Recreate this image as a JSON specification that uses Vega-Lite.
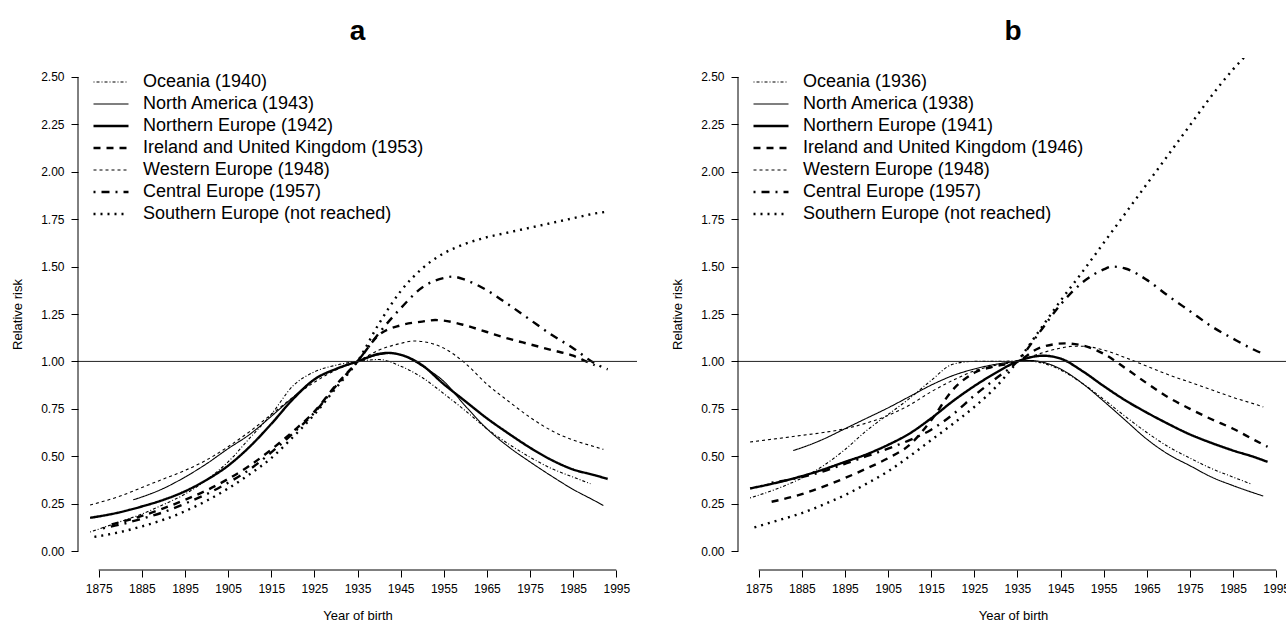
{
  "$schema": "https://vega.github.io/schema/vega-lite/v6.json",
  "background": "white",
  "padding": {"left": 11, "top": 18, "right": 0, "bottom": 0},
  "spacing": 33,
  "config": {
    "font": "Liberation Sans",
    "view": {"stroke": null},
    "axis": {"grid": false, "domain": false, "tickColor": "black", "tickSize": 7, "tickWidth": 1, "labelColor": "black", "titleColor": "black", "labelFontSize": 12, "titleFontSize": 13, "titleFontWeight": "normal", "labelFont": "Liberation Sans", "titleFont": "Liberation Sans"},
    "title": {"fontSize": 28, "fontWeight": "bold", "color": "black", "font": "Liberation Sans", "anchor": "middle"},
    "legend": {"orient": "none", "legendX": 14, "legendY": 13.3, "title": null, "symbolType": "stroke", "symbolSize": 1225, "symbolStrokeColor": "black", "clipHeight": 21.4, "rowPadding": 0, "labelOffset": 13, "labelFontSize": 18, "labelColor": "black", "labelFont": "Liberation Sans", "labelLimit": 0, "padding": 0}
  },
  "datasets": {
    "a": [
      {"region": "Oceania (1940)", "year": 1873, "rr": 0.10}, {"region": "Oceania (1940)", "year": 1880, "rr": 0.155}, {"region": "Oceania (1940)", "year": 1885, "rr": 0.195}, {"region": "Oceania (1940)", "year": 1890, "rr": 0.245}, {"region": "Oceania (1940)", "year": 1895, "rr": 0.30}, {"region": "Oceania (1940)", "year": 1900, "rr": 0.375}, {"region": "Oceania (1940)", "year": 1905, "rr": 0.47}, {"region": "Oceania (1940)", "year": 1910, "rr": 0.595}, {"region": "Oceania (1940)", "year": 1915, "rr": 0.72}, {"region": "Oceania (1940)", "year": 1920, "rr": 0.87}, {"region": "Oceania (1940)", "year": 1925, "rr": 0.945}, {"region": "Oceania (1940)", "year": 1930, "rr": 0.98}, {"region": "Oceania (1940)", "year": 1935, "rr": 1.0}, {"region": "Oceania (1940)", "year": 1940, "rr": 1.01}, {"region": "Oceania (1940)", "year": 1945, "rr": 0.975}, {"region": "Oceania (1940)", "year": 1950, "rr": 0.915}, {"region": "Oceania (1940)", "year": 1955, "rr": 0.83}, {"region": "Oceania (1940)", "year": 1960, "rr": 0.74}, {"region": "Oceania (1940)", "year": 1965, "rr": 0.645}, {"region": "Oceania (1940)", "year": 1970, "rr": 0.565}, {"region": "Oceania (1940)", "year": 1975, "rr": 0.495}, {"region": "Oceania (1940)", "year": 1980, "rr": 0.435}, {"region": "Oceania (1940)", "year": 1985, "rr": 0.39}, {"region": "Oceania (1940)", "year": 1989, "rr": 0.355},
      {"region": "North America (1943)", "year": 1883, "rr": 0.27}, {"region": "North America (1943)", "year": 1885, "rr": 0.285}, {"region": "North America (1943)", "year": 1890, "rr": 0.33}, {"region": "North America (1943)", "year": 1895, "rr": 0.39}, {"region": "North America (1943)", "year": 1900, "rr": 0.46}, {"region": "North America (1943)", "year": 1905, "rr": 0.54}, {"region": "North America (1943)", "year": 1910, "rr": 0.615}, {"region": "North America (1943)", "year": 1915, "rr": 0.71}, {"region": "North America (1943)", "year": 1920, "rr": 0.81}, {"region": "North America (1943)", "year": 1925, "rr": 0.905}, {"region": "North America (1943)", "year": 1930, "rr": 0.96}, {"region": "North America (1943)", "year": 1935, "rr": 1.0}, {"region": "North America (1943)", "year": 1940, "rr": 1.035}, {"region": "North America (1943)", "year": 1943, "rr": 1.042}, {"region": "North America (1943)", "year": 1945, "rr": 1.035}, {"region": "North America (1943)", "year": 1950, "rr": 0.975}, {"region": "North America (1943)", "year": 1955, "rr": 0.895}, {"region": "North America (1943)", "year": 1960, "rr": 0.765}, {"region": "North America (1943)", "year": 1965, "rr": 0.645}, {"region": "North America (1943)", "year": 1970, "rr": 0.55}, {"region": "North America (1943)", "year": 1975, "rr": 0.47}, {"region": "North America (1943)", "year": 1980, "rr": 0.395}, {"region": "North America (1943)", "year": 1985, "rr": 0.325}, {"region": "North America (1943)", "year": 1990, "rr": 0.265}, {"region": "North America (1943)", "year": 1992, "rr": 0.24},
      {"region": "Northern Europe (1942)", "year": 1873, "rr": 0.175}, {"region": "Northern Europe (1942)", "year": 1880, "rr": 0.205}, {"region": "Northern Europe (1942)", "year": 1885, "rr": 0.235}, {"region": "Northern Europe (1942)", "year": 1890, "rr": 0.27}, {"region": "Northern Europe (1942)", "year": 1895, "rr": 0.315}, {"region": "Northern Europe (1942)", "year": 1900, "rr": 0.375}, {"region": "Northern Europe (1942)", "year": 1905, "rr": 0.45}, {"region": "Northern Europe (1942)", "year": 1910, "rr": 0.55}, {"region": "Northern Europe (1942)", "year": 1915, "rr": 0.67}, {"region": "Northern Europe (1942)", "year": 1920, "rr": 0.80}, {"region": "Northern Europe (1942)", "year": 1925, "rr": 0.905}, {"region": "Northern Europe (1942)", "year": 1930, "rr": 0.96}, {"region": "Northern Europe (1942)", "year": 1935, "rr": 1.0}, {"region": "Northern Europe (1942)", "year": 1940, "rr": 1.04}, {"region": "Northern Europe (1942)", "year": 1942, "rr": 1.045}, {"region": "Northern Europe (1942)", "year": 1945, "rr": 1.035}, {"region": "Northern Europe (1942)", "year": 1950, "rr": 0.98}, {"region": "Northern Europe (1942)", "year": 1955, "rr": 0.88}, {"region": "Northern Europe (1942)", "year": 1960, "rr": 0.79}, {"region": "Northern Europe (1942)", "year": 1965, "rr": 0.70}, {"region": "Northern Europe (1942)", "year": 1970, "rr": 0.62}, {"region": "Northern Europe (1942)", "year": 1975, "rr": 0.545}, {"region": "Northern Europe (1942)", "year": 1980, "rr": 0.48}, {"region": "Northern Europe (1942)", "year": 1985, "rr": 0.43}, {"region": "Northern Europe (1942)", "year": 1990, "rr": 0.40}, {"region": "Northern Europe (1942)", "year": 1993, "rr": 0.38},
      {"region": "Ireland and United Kingdom (1953)", "year": 1878, "rr": 0.14}, {"region": "Ireland and United Kingdom (1953)", "year": 1885, "rr": 0.185}, {"region": "Ireland and United Kingdom (1953)", "year": 1890, "rr": 0.225}, {"region": "Ireland and United Kingdom (1953)", "year": 1895, "rr": 0.27}, {"region": "Ireland and United Kingdom (1953)", "year": 1900, "rr": 0.32}, {"region": "Ireland and United Kingdom (1953)", "year": 1905, "rr": 0.38}, {"region": "Ireland and United Kingdom (1953)", "year": 1910, "rr": 0.45}, {"region": "Ireland and United Kingdom (1953)", "year": 1915, "rr": 0.535}, {"region": "Ireland and United Kingdom (1953)", "year": 1920, "rr": 0.63}, {"region": "Ireland and United Kingdom (1953)", "year": 1925, "rr": 0.735}, {"region": "Ireland and United Kingdom (1953)", "year": 1930, "rr": 0.875}, {"region": "Ireland and United Kingdom (1953)", "year": 1935, "rr": 1.0}, {"region": "Ireland and United Kingdom (1953)", "year": 1940, "rr": 1.14}, {"region": "Ireland and United Kingdom (1953)", "year": 1945, "rr": 1.19}, {"region": "Ireland and United Kingdom (1953)", "year": 1950, "rr": 1.21}, {"region": "Ireland and United Kingdom (1953)", "year": 1953, "rr": 1.218}, {"region": "Ireland and United Kingdom (1953)", "year": 1955, "rr": 1.215}, {"region": "Ireland and United Kingdom (1953)", "year": 1960, "rr": 1.19}, {"region": "Ireland and United Kingdom (1953)", "year": 1965, "rr": 1.155}, {"region": "Ireland and United Kingdom (1953)", "year": 1970, "rr": 1.12}, {"region": "Ireland and United Kingdom (1953)", "year": 1975, "rr": 1.09}, {"region": "Ireland and United Kingdom (1953)", "year": 1980, "rr": 1.06}, {"region": "Ireland and United Kingdom (1953)", "year": 1985, "rr": 1.03}, {"region": "Ireland and United Kingdom (1953)", "year": 1988, "rr": 1.0}, {"region": "Ireland and United Kingdom (1953)", "year": 1990, "rr": 0.98},
      {"region": "Western Europe (1948)", "year": 1873, "rr": 0.243}, {"region": "Western Europe (1948)", "year": 1880, "rr": 0.29}, {"region": "Western Europe (1948)", "year": 1885, "rr": 0.335}, {"region": "Western Europe (1948)", "year": 1890, "rr": 0.38}, {"region": "Western Europe (1948)", "year": 1895, "rr": 0.425}, {"region": "Western Europe (1948)", "year": 1900, "rr": 0.48}, {"region": "Western Europe (1948)", "year": 1905, "rr": 0.55}, {"region": "Western Europe (1948)", "year": 1910, "rr": 0.63}, {"region": "Western Europe (1948)", "year": 1915, "rr": 0.72}, {"region": "Western Europe (1948)", "year": 1920, "rr": 0.81}, {"region": "Western Europe (1948)", "year": 1925, "rr": 0.89}, {"region": "Western Europe (1948)", "year": 1930, "rr": 0.955}, {"region": "Western Europe (1948)", "year": 1935, "rr": 1.0}, {"region": "Western Europe (1948)", "year": 1940, "rr": 1.06}, {"region": "Western Europe (1948)", "year": 1945, "rr": 1.095}, {"region": "Western Europe (1948)", "year": 1948, "rr": 1.108}, {"region": "Western Europe (1948)", "year": 1950, "rr": 1.105}, {"region": "Western Europe (1948)", "year": 1955, "rr": 1.07}, {"region": "Western Europe (1948)", "year": 1960, "rr": 0.99}, {"region": "Western Europe (1948)", "year": 1965, "rr": 0.88}, {"region": "Western Europe (1948)", "year": 1970, "rr": 0.79}, {"region": "Western Europe (1948)", "year": 1975, "rr": 0.705}, {"region": "Western Europe (1948)", "year": 1980, "rr": 0.635}, {"region": "Western Europe (1948)", "year": 1985, "rr": 0.585}, {"region": "Western Europe (1948)", "year": 1990, "rr": 0.55}, {"region": "Western Europe (1948)", "year": 1992, "rr": 0.536},
      {"region": "Central Europe (1957)", "year": 1876, "rr": 0.12}, {"region": "Central Europe (1957)", "year": 1880, "rr": 0.14}, {"region": "Central Europe (1957)", "year": 1885, "rr": 0.17}, {"region": "Central Europe (1957)", "year": 1890, "rr": 0.205}, {"region": "Central Europe (1957)", "year": 1895, "rr": 0.25}, {"region": "Central Europe (1957)", "year": 1900, "rr": 0.30}, {"region": "Central Europe (1957)", "year": 1905, "rr": 0.36}, {"region": "Central Europe (1957)", "year": 1910, "rr": 0.43}, {"region": "Central Europe (1957)", "year": 1915, "rr": 0.52}, {"region": "Central Europe (1957)", "year": 1920, "rr": 0.62}, {"region": "Central Europe (1957)", "year": 1925, "rr": 0.73}, {"region": "Central Europe (1957)", "year": 1930, "rr": 0.87}, {"region": "Central Europe (1957)", "year": 1935, "rr": 1.0}, {"region": "Central Europe (1957)", "year": 1940, "rr": 1.15}, {"region": "Central Europe (1957)", "year": 1945, "rr": 1.28}, {"region": "Central Europe (1957)", "year": 1950, "rr": 1.39}, {"region": "Central Europe (1957)", "year": 1955, "rr": 1.44}, {"region": "Central Europe (1957)", "year": 1957, "rr": 1.447}, {"region": "Central Europe (1957)", "year": 1960, "rr": 1.43}, {"region": "Central Europe (1957)", "year": 1965, "rr": 1.375}, {"region": "Central Europe (1957)", "year": 1970, "rr": 1.30}, {"region": "Central Europe (1957)", "year": 1975, "rr": 1.22}, {"region": "Central Europe (1957)", "year": 1980, "rr": 1.14}, {"region": "Central Europe (1957)", "year": 1985, "rr": 1.07}, {"region": "Central Europe (1957)", "year": 1990, "rr": 0.99}, {"region": "Central Europe (1957)", "year": 1993, "rr": 0.958},
      {"region": "Southern Europe (not reached)", "year": 1874, "rr": 0.075}, {"region": "Southern Europe (not reached)", "year": 1880, "rr": 0.10}, {"region": "Southern Europe (not reached)", "year": 1885, "rr": 0.13}, {"region": "Southern Europe (not reached)", "year": 1890, "rr": 0.165}, {"region": "Southern Europe (not reached)", "year": 1895, "rr": 0.21}, {"region": "Southern Europe (not reached)", "year": 1900, "rr": 0.265}, {"region": "Southern Europe (not reached)", "year": 1905, "rr": 0.33}, {"region": "Southern Europe (not reached)", "year": 1910, "rr": 0.405}, {"region": "Southern Europe (not reached)", "year": 1915, "rr": 0.49}, {"region": "Southern Europe (not reached)", "year": 1920, "rr": 0.60}, {"region": "Southern Europe (not reached)", "year": 1925, "rr": 0.72}, {"region": "Southern Europe (not reached)", "year": 1930, "rr": 0.86}, {"region": "Southern Europe (not reached)", "year": 1935, "rr": 1.0}, {"region": "Southern Europe (not reached)", "year": 1940, "rr": 1.2}, {"region": "Southern Europe (not reached)", "year": 1945, "rr": 1.37}, {"region": "Southern Europe (not reached)", "year": 1950, "rr": 1.49}, {"region": "Southern Europe (not reached)", "year": 1955, "rr": 1.57}, {"region": "Southern Europe (not reached)", "year": 1960, "rr": 1.62}, {"region": "Southern Europe (not reached)", "year": 1965, "rr": 1.655}, {"region": "Southern Europe (not reached)", "year": 1970, "rr": 1.68}, {"region": "Southern Europe (not reached)", "year": 1975, "rr": 1.705}, {"region": "Southern Europe (not reached)", "year": 1980, "rr": 1.73}, {"region": "Southern Europe (not reached)", "year": 1985, "rr": 1.755}, {"region": "Southern Europe (not reached)", "year": 1990, "rr": 1.78}, {"region": "Southern Europe (not reached)", "year": 1993, "rr": 1.79}
    ],
    "b": [
      {"region": "Oceania (1936)", "year": 1873, "rr": 0.28}, {"region": "Oceania (1936)", "year": 1880, "rr": 0.335}, {"region": "Oceania (1936)", "year": 1885, "rr": 0.385}, {"region": "Oceania (1936)", "year": 1890, "rr": 0.45}, {"region": "Oceania (1936)", "year": 1895, "rr": 0.535}, {"region": "Oceania (1936)", "year": 1900, "rr": 0.635}, {"region": "Oceania (1936)", "year": 1905, "rr": 0.72}, {"region": "Oceania (1936)", "year": 1910, "rr": 0.805}, {"region": "Oceania (1936)", "year": 1915, "rr": 0.90}, {"region": "Oceania (1936)", "year": 1920, "rr": 0.985}, {"region": "Oceania (1936)", "year": 1925, "rr": 1.0}, {"region": "Oceania (1936)", "year": 1930, "rr": 1.0}, {"region": "Oceania (1936)", "year": 1936, "rr": 1.003}, {"region": "Oceania (1936)", "year": 1940, "rr": 0.995}, {"region": "Oceania (1936)", "year": 1945, "rr": 0.955}, {"region": "Oceania (1936)", "year": 1950, "rr": 0.885}, {"region": "Oceania (1936)", "year": 1955, "rr": 0.80}, {"region": "Oceania (1936)", "year": 1960, "rr": 0.71}, {"region": "Oceania (1936)", "year": 1965, "rr": 0.625}, {"region": "Oceania (1936)", "year": 1970, "rr": 0.55}, {"region": "Oceania (1936)", "year": 1975, "rr": 0.49}, {"region": "Oceania (1936)", "year": 1980, "rr": 0.435}, {"region": "Oceania (1936)", "year": 1985, "rr": 0.39}, {"region": "Oceania (1936)", "year": 1989, "rr": 0.355},
      {"region": "North America (1938)", "year": 1883, "rr": 0.53}, {"region": "North America (1938)", "year": 1885, "rr": 0.545}, {"region": "North America (1938)", "year": 1890, "rr": 0.59}, {"region": "North America (1938)", "year": 1895, "rr": 0.645}, {"region": "North America (1938)", "year": 1900, "rr": 0.70}, {"region": "North America (1938)", "year": 1905, "rr": 0.755}, {"region": "North America (1938)", "year": 1910, "rr": 0.815}, {"region": "North America (1938)", "year": 1915, "rr": 0.875}, {"region": "North America (1938)", "year": 1920, "rr": 0.925}, {"region": "North America (1938)", "year": 1925, "rr": 0.96}, {"region": "North America (1938)", "year": 1930, "rr": 0.985}, {"region": "North America (1938)", "year": 1935, "rr": 1.0}, {"region": "North America (1938)", "year": 1938, "rr": 1.005}, {"region": "North America (1938)", "year": 1940, "rr": 1.0}, {"region": "North America (1938)", "year": 1945, "rr": 0.96}, {"region": "North America (1938)", "year": 1950, "rr": 0.885}, {"region": "North America (1938)", "year": 1955, "rr": 0.79}, {"region": "North America (1938)", "year": 1960, "rr": 0.69}, {"region": "North America (1938)", "year": 1965, "rr": 0.59}, {"region": "North America (1938)", "year": 1970, "rr": 0.51}, {"region": "North America (1938)", "year": 1975, "rr": 0.45}, {"region": "North America (1938)", "year": 1980, "rr": 0.39}, {"region": "North America (1938)", "year": 1985, "rr": 0.345}, {"region": "North America (1938)", "year": 1990, "rr": 0.305}, {"region": "North America (1938)", "year": 1992, "rr": 0.29},
      {"region": "Northern Europe (1941)", "year": 1873, "rr": 0.33}, {"region": "Northern Europe (1941)", "year": 1880, "rr": 0.365}, {"region": "Northern Europe (1941)", "year": 1885, "rr": 0.395}, {"region": "Northern Europe (1941)", "year": 1890, "rr": 0.43}, {"region": "Northern Europe (1941)", "year": 1895, "rr": 0.47}, {"region": "Northern Europe (1941)", "year": 1900, "rr": 0.51}, {"region": "Northern Europe (1941)", "year": 1905, "rr": 0.56}, {"region": "Northern Europe (1941)", "year": 1910, "rr": 0.62}, {"region": "Northern Europe (1941)", "year": 1915, "rr": 0.70}, {"region": "Northern Europe (1941)", "year": 1920, "rr": 0.79}, {"region": "Northern Europe (1941)", "year": 1925, "rr": 0.87}, {"region": "Northern Europe (1941)", "year": 1930, "rr": 0.94}, {"region": "Northern Europe (1941)", "year": 1935, "rr": 1.0}, {"region": "Northern Europe (1941)", "year": 1941, "rr": 1.03}, {"region": "Northern Europe (1941)", "year": 1945, "rr": 1.015}, {"region": "Northern Europe (1941)", "year": 1950, "rr": 0.95}, {"region": "Northern Europe (1941)", "year": 1955, "rr": 0.87}, {"region": "Northern Europe (1941)", "year": 1960, "rr": 0.795}, {"region": "Northern Europe (1941)", "year": 1965, "rr": 0.73}, {"region": "Northern Europe (1941)", "year": 1970, "rr": 0.67}, {"region": "Northern Europe (1941)", "year": 1975, "rr": 0.615}, {"region": "Northern Europe (1941)", "year": 1980, "rr": 0.57}, {"region": "Northern Europe (1941)", "year": 1985, "rr": 0.53}, {"region": "Northern Europe (1941)", "year": 1990, "rr": 0.495}, {"region": "Northern Europe (1941)", "year": 1993, "rr": 0.47},
      {"region": "Ireland and United Kingdom (1946)", "year": 1878, "rr": 0.26}, {"region": "Ireland and United Kingdom (1946)", "year": 1885, "rr": 0.30}, {"region": "Ireland and United Kingdom (1946)", "year": 1890, "rr": 0.34}, {"region": "Ireland and United Kingdom (1946)", "year": 1895, "rr": 0.385}, {"region": "Ireland and United Kingdom (1946)", "year": 1900, "rr": 0.435}, {"region": "Ireland and United Kingdom (1946)", "year": 1905, "rr": 0.49}, {"region": "Ireland and United Kingdom (1946)", "year": 1910, "rr": 0.56}, {"region": "Ireland and United Kingdom (1946)", "year": 1915, "rr": 0.69}, {"region": "Ireland and United Kingdom (1946)", "year": 1920, "rr": 0.85}, {"region": "Ireland and United Kingdom (1946)", "year": 1925, "rr": 0.94}, {"region": "Ireland and United Kingdom (1946)", "year": 1930, "rr": 0.975}, {"region": "Ireland and United Kingdom (1946)", "year": 1935, "rr": 1.0}, {"region": "Ireland and United Kingdom (1946)", "year": 1940, "rr": 1.07}, {"region": "Ireland and United Kingdom (1946)", "year": 1946, "rr": 1.095}, {"region": "Ireland and United Kingdom (1946)", "year": 1950, "rr": 1.085}, {"region": "Ireland and United Kingdom (1946)", "year": 1955, "rr": 1.04}, {"region": "Ireland and United Kingdom (1946)", "year": 1960, "rr": 0.965}, {"region": "Ireland and United Kingdom (1946)", "year": 1965, "rr": 0.885}, {"region": "Ireland and United Kingdom (1946)", "year": 1970, "rr": 0.81}, {"region": "Ireland and United Kingdom (1946)", "year": 1975, "rr": 0.75}, {"region": "Ireland and United Kingdom (1946)", "year": 1980, "rr": 0.695}, {"region": "Ireland and United Kingdom (1946)", "year": 1985, "rr": 0.645}, {"region": "Ireland and United Kingdom (1946)", "year": 1990, "rr": 0.585}, {"region": "Ireland and United Kingdom (1946)", "year": 1993, "rr": 0.55},
      {"region": "Western Europe (1948)", "year": 1873, "rr": 0.575}, {"region": "Western Europe (1948)", "year": 1880, "rr": 0.595}, {"region": "Western Europe (1948)", "year": 1885, "rr": 0.61}, {"region": "Western Europe (1948)", "year": 1890, "rr": 0.625}, {"region": "Western Europe (1948)", "year": 1895, "rr": 0.645}, {"region": "Western Europe (1948)", "year": 1900, "rr": 0.675}, {"region": "Western Europe (1948)", "year": 1905, "rr": 0.715}, {"region": "Western Europe (1948)", "year": 1910, "rr": 0.77}, {"region": "Western Europe (1948)", "year": 1915, "rr": 0.84}, {"region": "Western Europe (1948)", "year": 1920, "rr": 0.90}, {"region": "Western Europe (1948)", "year": 1925, "rr": 0.95}, {"region": "Western Europe (1948)", "year": 1930, "rr": 0.98}, {"region": "Western Europe (1948)", "year": 1935, "rr": 1.0}, {"region": "Western Europe (1948)", "year": 1940, "rr": 1.04}, {"region": "Western Europe (1948)", "year": 1945, "rr": 1.07}, {"region": "Western Europe (1948)", "year": 1948, "rr": 1.08}, {"region": "Western Europe (1948)", "year": 1950, "rr": 1.08}, {"region": "Western Europe (1948)", "year": 1955, "rr": 1.06}, {"region": "Western Europe (1948)", "year": 1960, "rr": 1.02}, {"region": "Western Europe (1948)", "year": 1965, "rr": 0.975}, {"region": "Western Europe (1948)", "year": 1970, "rr": 0.93}, {"region": "Western Europe (1948)", "year": 1975, "rr": 0.89}, {"region": "Western Europe (1948)", "year": 1980, "rr": 0.85}, {"region": "Western Europe (1948)", "year": 1985, "rr": 0.81}, {"region": "Western Europe (1948)", "year": 1990, "rr": 0.775}, {"region": "Western Europe (1948)", "year": 1992, "rr": 0.76},
      {"region": "Central Europe (1957)", "year": 1878, "rr": 0.36}, {"region": "Central Europe (1957)", "year": 1885, "rr": 0.39}, {"region": "Central Europe (1957)", "year": 1890, "rr": 0.42}, {"region": "Central Europe (1957)", "year": 1895, "rr": 0.46}, {"region": "Central Europe (1957)", "year": 1900, "rr": 0.50}, {"region": "Central Europe (1957)", "year": 1905, "rr": 0.54}, {"region": "Central Europe (1957)", "year": 1910, "rr": 0.585}, {"region": "Central Europe (1957)", "year": 1915, "rr": 0.64}, {"region": "Central Europe (1957)", "year": 1920, "rr": 0.72}, {"region": "Central Europe (1957)", "year": 1925, "rr": 0.82}, {"region": "Central Europe (1957)", "year": 1930, "rr": 0.91}, {"region": "Central Europe (1957)", "year": 1935, "rr": 1.0}, {"region": "Central Europe (1957)", "year": 1940, "rr": 1.15}, {"region": "Central Europe (1957)", "year": 1945, "rr": 1.30}, {"region": "Central Europe (1957)", "year": 1950, "rr": 1.415}, {"region": "Central Europe (1957)", "year": 1955, "rr": 1.485}, {"region": "Central Europe (1957)", "year": 1957, "rr": 1.50}, {"region": "Central Europe (1957)", "year": 1960, "rr": 1.49}, {"region": "Central Europe (1957)", "year": 1965, "rr": 1.43}, {"region": "Central Europe (1957)", "year": 1970, "rr": 1.345}, {"region": "Central Europe (1957)", "year": 1975, "rr": 1.265}, {"region": "Central Europe (1957)", "year": 1980, "rr": 1.185}, {"region": "Central Europe (1957)", "year": 1985, "rr": 1.12}, {"region": "Central Europe (1957)", "year": 1990, "rr": 1.06}, {"region": "Central Europe (1957)", "year": 1992, "rr": 1.04},
      {"region": "Southern Europe (not reached)", "year": 1874, "rr": 0.125}, {"region": "Southern Europe (not reached)", "year": 1880, "rr": 0.165}, {"region": "Southern Europe (not reached)", "year": 1885, "rr": 0.20}, {"region": "Southern Europe (not reached)", "year": 1890, "rr": 0.245}, {"region": "Southern Europe (not reached)", "year": 1895, "rr": 0.295}, {"region": "Southern Europe (not reached)", "year": 1900, "rr": 0.355}, {"region": "Southern Europe (not reached)", "year": 1905, "rr": 0.42}, {"region": "Southern Europe (not reached)", "year": 1910, "rr": 0.50}, {"region": "Southern Europe (not reached)", "year": 1915, "rr": 0.585}, {"region": "Southern Europe (not reached)", "year": 1920, "rr": 0.67}, {"region": "Southern Europe (not reached)", "year": 1925, "rr": 0.76}, {"region": "Southern Europe (not reached)", "year": 1930, "rr": 0.865}, {"region": "Southern Europe (not reached)", "year": 1935, "rr": 1.0}, {"region": "Southern Europe (not reached)", "year": 1940, "rr": 1.16}, {"region": "Southern Europe (not reached)", "year": 1945, "rr": 1.32}, {"region": "Southern Europe (not reached)", "year": 1950, "rr": 1.47}, {"region": "Southern Europe (not reached)", "year": 1955, "rr": 1.625}, {"region": "Southern Europe (not reached)", "year": 1960, "rr": 1.78}, {"region": "Southern Europe (not reached)", "year": 1965, "rr": 1.935}, {"region": "Southern Europe (not reached)", "year": 1970, "rr": 2.09}, {"region": "Southern Europe (not reached)", "year": 1975, "rr": 2.245}, {"region": "Southern Europe (not reached)", "year": 1980, "rr": 2.40}, {"region": "Southern Europe (not reached)", "year": 1985, "rr": 2.54}, {"region": "Southern Europe (not reached)", "year": 1990, "rr": 2.66}, {"region": "Southern Europe (not reached)", "year": 1993, "rr": 2.73}
    ]
  },
  "resolve": {
    "scale": {"strokeDash": "independent", "strokeWidth": "independent"},
    "legend": {"strokeDash": "independent", "strokeWidth": "independent"}
  },
  "hconcat": [
    {
      "width": 559,
      "height": 512,
      "title": {"text": "a", "offset": 12},
      "layer": [
        {
          "data": {"name": "a"},
          "mark": {"type": "line", "color": "black", "clip": true, "interpolate": "monotone", "strokeCap": "butt"},
          "encoding": {
            "x": {"field": "year", "type": "quantitative", "scale": {"domain": [1870.2, 1999.8], "nice": false, "zero": false},
              "axis": {"values": [1875,1880,1885,1890,1895,1900,1905,1910,1915,1920,1925,1930,1935,1940,1945,1950,1955,1960,1965,1970,1975,1980,1985,1990,1995], "format": "d", "labelExpr": "(datum.value - 1875) % 10 == 0 ? datum.label : ''", "labelPadding": 6, "labelFlush": false, "labelOverlap": false, "title": "Year of birth", "titlePadding": 15}},
            "y": {"field": "rr", "type": "quantitative", "scale": {"domain": [-0.1, 2.6], "nice": false, "zero": false},
              "axis": {"values": [0,0.25,0.5,0.75,1,1.25,1.5,1.75,2,2.25,2.5], "format": ".2f", "labelPadding": 7, "labelFlush": false, "labelOverlap": false, "title": "Relative risk", "titlePadding": 16}},
            "strokeDash": {"field": "region", "type": "ordinal",
              "scale": {"type": "ordinal", "domain": ["Oceania (1940)", "North America (1943)", "Northern Europe (1942)", "Ireland and United Kingdom (1953)", "Western Europe (1948)", "Central Europe (1957)", "Southern Europe (not reached)"],
                "range": [[1,2,3,2],[1,0],[1,0],[7,6],[3,3],[2,6,8,6],[2,5]]}},
            "strokeWidth": {"field": "region", "type": "ordinal",
              "scale": {"type": "ordinal", "domain": ["Oceania (1940)", "North America (1943)", "Northern Europe (1942)", "Ireland and United Kingdom (1953)", "Western Europe (1948)", "Central Europe (1957)", "Southern Europe (not reached)"],
                "range": [1.1,1.1,2.4,2.4,1.1,2.4,2.4]}}
          }
        },
        {"data": {"values": [{}]}, "mark": {"type": "rule", "color": "#222", "strokeWidth": 1}, "encoding": {"y": {"datum": 1}}},
        {"data": {"values": [{}]}, "mark": {"type": "rule", "color": "black", "strokeWidth": 1}, "encoding": {"x": {"datum": 1870.2}, "y": {"datum": 0}, "y2": {"datum": 2.5}}},
        {"data": {"values": [{}]}, "mark": {"type": "rule", "color": "black", "strokeWidth": 1}, "encoding": {"y": {"datum": -0.1}, "x": {"datum": 1875}, "x2": {"datum": 1995}}}
      ]
    },
    {
      "width": 550,
      "height": 512,
      "title": {"text": "b", "offset": 12},
      "layer": [
        {
          "data": {"name": "b"},
          "mark": {"type": "line", "color": "black", "clip": true, "interpolate": "monotone", "strokeCap": "butt"},
          "encoding": {
            "x": {"field": "year", "type": "quantitative", "scale": {"domain": [1870.2, 1997.74], "nice": false, "zero": false},
              "axis": {"values": [1875,1880,1885,1890,1895,1900,1905,1910,1915,1920,1925,1930,1935,1940,1945,1950,1955,1960,1965,1970,1975,1980,1985,1990,1995], "format": "d", "labelExpr": "(datum.value - 1875) % 10 == 0 ? datum.label : ''", "labelPadding": 6, "labelFlush": false, "labelOverlap": false, "title": "Year of birth", "titlePadding": 15}},
            "y": {"field": "rr", "type": "quantitative", "scale": {"domain": [-0.1, 2.6], "nice": false, "zero": false},
              "axis": {"values": [0,0.25,0.5,0.75,1,1.25,1.5,1.75,2,2.25,2.5], "format": ".2f", "labelPadding": 7, "labelFlush": false, "labelOverlap": false, "title": "Relative risk", "titlePadding": 16}},
            "strokeDash": {"field": "region", "type": "ordinal",
              "scale": {"type": "ordinal", "domain": ["Oceania (1936)", "North America (1938)", "Northern Europe (1941)", "Ireland and United Kingdom (1946)", "Western Europe (1948)", "Central Europe (1957)", "Southern Europe (not reached)"],
                "range": [[1,2,3,2],[1,0],[1,0],[7,6],[3,3],[2,6,8,6],[2,5]]}},
            "strokeWidth": {"field": "region", "type": "ordinal",
              "scale": {"type": "ordinal", "domain": ["Oceania (1936)", "North America (1938)", "Northern Europe (1941)", "Ireland and United Kingdom (1946)", "Western Europe (1948)", "Central Europe (1957)", "Southern Europe (not reached)"],
                "range": [1.1,1.1,2.4,2.4,1.1,2.4,2.4]}}
          }
        },
        {"data": {"values": [{}]}, "mark": {"type": "rule", "color": "#222", "strokeWidth": 1}, "encoding": {"y": {"datum": 1}}},
        {"data": {"values": [{}]}, "mark": {"type": "rule", "color": "black", "strokeWidth": 1}, "encoding": {"x": {"datum": 1870.2}, "y": {"datum": 0}, "y2": {"datum": 2.5}}},
        {"data": {"values": [{}]}, "mark": {"type": "rule", "color": "black", "strokeWidth": 1}, "encoding": {"y": {"datum": -0.1}, "x": {"datum": 1875}, "x2": {"datum": 1995}}}
      ]
    }
  ]
}
